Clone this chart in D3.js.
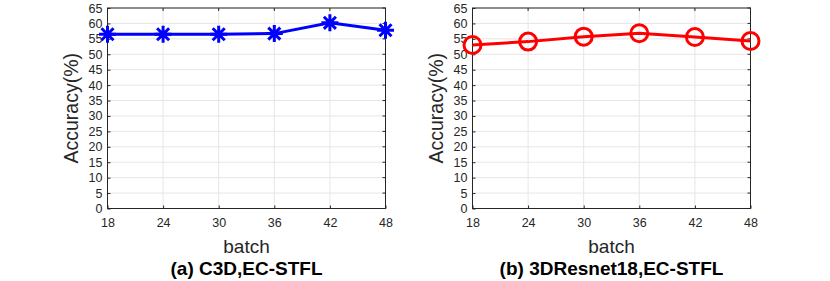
<!DOCTYPE html>
<html>
<head>
<meta charset="utf-8">
<script src="https://cdn.jsdelivr.net/npm/d3@7"></script>
<style>
  body { margin: 0; background: #fff; }
  svg text { font-family: "Liberation Sans", Arial, sans-serif; fill: #262626; }
</style>
</head>
<body>
<svg id="chart" width="830" height="281"></svg>
<script>
// data
const batches = [18, 24, 30, 36, 42, 48];
const c3dAcc = [56.5, 56.5, 56.5, 56.7, 60.2, 57.8];
const resnetAcc = [53.0, 54.1, 55.7, 56.8, 55.6, 54.3];
const yTicks = d3.range(0, 66, 5);
const titles = ["(a) C3D,EC-STFL", "(b) 3DResnet18,EC-STFL"];

const svg = d3.select("#chart");

const panels = [
  { left: 107.5, right: 385.5, values: c3dAcc, color: "#0000ff", marker: "star", title: titles[0] },
  { left: 472.5, right: 750.5, values: resnetAcc, color: "#ff0000", marker: "circle", title: titles[1] }
];

const plotTop = 8, plotBottom = 208.5;

panels.forEach(p => {
  const x = d3.scaleLinear().domain([18, 48]).range([p.left, p.right]);
  const y = d3.scaleLinear().domain([0, 65]).range([plotBottom, plotTop]);
  const g = svg.append("g");

  // grid
  g.selectAll(".gx").data(batches).enter().append("line")
    .attr("x1", d => x(d)).attr("x2", d => x(d))
    .attr("y1", plotTop).attr("y2", plotBottom)
    .attr("stroke", "#e6e6e6").attr("stroke-width", 1);
  g.selectAll(".gy").data(yTicks).enter().append("line")
    .attr("x1", p.left).attr("x2", p.right)
    .attr("y1", d => y(d)).attr("y2", d => y(d))
    .attr("stroke", "#e6e6e6").attr("stroke-width", 1);

  // box
  g.append("rect")
    .attr("x", p.left).attr("y", plotTop)
    .attr("width", p.right - p.left).attr("height", plotBottom - plotTop)
    .attr("fill", "none").attr("stroke", "#262626").attr("stroke-width", 1);

  // axes (ticks inward)
  const xAxis = g.append("g").attr("transform", `translate(0,${plotBottom})`)
    .call(d3.axisBottom(x).tickValues(batches).tickSize(-3).tickPadding(10).tickFormat(d3.format("d")));
  const yAxis = g.append("g").attr("transform", `translate(${p.left},0)`)
    .call(d3.axisLeft(y).tickValues(yTicks).tickSize(-3).tickPadding(5));
  [xAxis, yAxis].forEach(a => {
    a.select(".domain").remove();
    a.selectAll("line").attr("stroke", "#262626");
    a.selectAll("text").style("font-size", "12.5px").attr("fill", "#262626")
      .style("font-family", "'Liberation Sans', Arial, sans-serif");
  });
  // top/right ticks
  g.selectAll(".tt").data(batches).enter().append("line")
    .attr("x1", d => x(d)).attr("x2", d => x(d))
    .attr("y1", plotTop).attr("y2", plotTop + 3).attr("stroke", "#262626");
  g.selectAll(".rt").data(yTicks).enter().append("line")
    .attr("x1", p.right).attr("x2", p.right - 3)
    .attr("y1", d => y(d)).attr("y2", d => y(d)).attr("stroke", "#262626");

  // line
  const line = d3.line().x((d, i) => x(batches[i])).y(d => y(d));
  g.append("path").datum(p.values)
    .attr("d", line).attr("fill", "none")
    .attr("stroke", p.color).attr("stroke-width", 3);

  // markers
  if (p.marker === "circle") {
    g.selectAll(".m").data(p.values).enter().append("circle")
      .attr("cx", (d, i) => x(batches[i])).attr("cy", d => y(d))
      .attr("r", 8.5).attr("fill", "none")
      .attr("stroke", p.color).attr("stroke-width", 3);
  } else {
    const r = 8.5;
    const star = [0, 45, 90, 135].map(a => {
      const rad = a * Math.PI / 180;
      return `M${-r * Math.cos(rad)},${-r * Math.sin(rad)}L${r * Math.cos(rad)},${r * Math.sin(rad)}`;
    }).join("");
    g.selectAll(".m").data(p.values).enter().append("path")
      .attr("transform", (d, i) => `translate(${x(batches[i])},${y(d)})`)
      .attr("d", star).attr("stroke", p.color).attr("stroke-width", 3);
  }

  // labels
  const cx = (p.left + p.right) / 2;
  g.append("text").attr("x", cx).attr("y", 252.5)
    .attr("text-anchor", "middle").style("font-size", "19px").text("batch");
  g.append("text").attr("x", cx).attr("y", 275)
    .attr("text-anchor", "middle").style("font-size", "19px").style("font-weight", "bold")
    .style("fill", "#000").text(p.title);
  g.append("text")
    .attr("transform", `translate(${p.left - 30},${(plotTop + plotBottom) / 2}) rotate(-90)`)
    .attr("text-anchor", "middle").style("font-size", "19.5px").text("Accuracy(%)");
});
</script>
</body>
</html>
